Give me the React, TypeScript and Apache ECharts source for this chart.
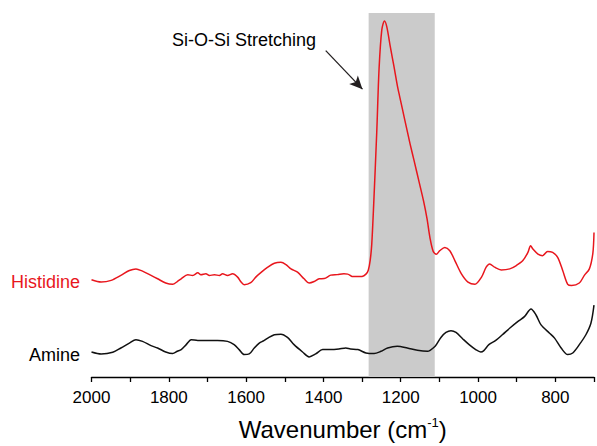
import React, { useEffect, useRef } from "react";
import * as echarts from "echarts";

// Wavenumber axis (cm^-1), drawn reversed
const X_MIN = 700;
const X_MAX = 2000;
const X_TICK_LABELS = [2000, 1800, 1600, 1400, 1200, 1000, 800];
const BAND = [1283, 1112];

// Histidine (red) spectrum, arbitrary absorbance units
const histWn = [
  2000, 1975, 1949, 1924, 1902, 1885, 1868, 1846, 1829, 1808, 1790, 1778, 1768,
  1751, 1738, 1725, 1717, 1704, 1695, 1682, 1669, 1661, 1648, 1635, 1622, 1613,
  1605, 1588, 1575, 1562, 1544, 1527, 1510, 1497, 1484, 1467, 1450, 1437, 1424,
  1411, 1398, 1381, 1364, 1347, 1337, 1326, 1315, 1300, 1290, 1284, 1279, 1275,
  1270, 1262, 1256, 1249, 1242, 1236, 1227, 1218, 1208, 1203, 1189, 1176, 1165,
  1153, 1141, 1132, 1124, 1116, 1108, 1099, 1086, 1073, 1060, 1043, 1026, 1008,
  991, 979, 970, 957, 940, 918, 901, 884, 871, 864, 858, 845, 833, 820, 807, 794,
  781, 768, 758, 738, 725, 712, 703, 700,
];
const histAbs = [
  98.3, 96, 97.7, 102.7, 107.7, 109.3, 107, 102.7, 99.3, 95, 93.7, 96.5, 99.3,
  103.3, 102.7, 105.3, 103.3, 104.3, 102.7, 103.3, 102.7, 104.3, 102.7, 104.3, 101, 96,
  93.3, 95.3, 101, 105.5, 111, 115, 116, 113.7, 109.3, 106, 99.3, 95, 96.5,
  99.3, 99.5, 103, 103.5, 104.3, 104, 101.7, 101.5, 101.7, 104, 108, 118, 134,
  174, 248, 312, 351, 360, 354, 334, 315, 293, 284, 259, 236, 218,
  198, 178, 160, 140, 127, 124, 127.7, 131, 127.7, 117.7, 104.3, 96, 93.7,
  101, 111, 114.3, 111, 108.3, 109.3, 112.7, 117.7, 126, 132.7, 129.3, 124.3, 122.7, 127, 126, 121,
  107.7, 93.7, 92.5, 95, 102.7, 109.3, 125, 146,
];

// Amine (black) spectrum, arbitrary absorbance units
const amineWn = [
  2000, 1975, 1945, 1924, 1902, 1885, 1868, 1846, 1829, 1808, 1790, 1778, 1768,
  1755, 1742, 1725, 1700, 1674, 1648, 1631, 1618, 1605, 1592, 1579, 1566, 1554,
  1544, 1527, 1510, 1493, 1476, 1454, 1437, 1420, 1402, 1381, 1360, 1342, 1330,
  1311, 1290, 1269, 1251, 1234, 1209, 1183, 1157, 1131, 1124, 1111, 1096, 1083,
  1070, 1057, 1040, 1023, 1006, 993, 985, 972, 955, 937, 916, 895, 880, 863, 850,
  837, 815, 802, 785, 768, 755, 738, 721, 708, 700,
];
const amineAbs = [
  25.3, 23.3, 25, 29.3, 34.3, 37.7, 36, 31.7, 29.3, 25.3, 23.7, 26, 27.7,
  32.7, 37.7, 37, 37, 37, 36, 32.7, 27.7, 22.7, 23.3, 29.3, 34.3, 36.7,
  39.3, 42.7, 43.3, 40, 32.7, 25.3, 20.3, 23.3, 27.7, 27.7, 28.3, 29.3, 28.3,
  27.7, 24.3, 23.7, 26, 29.3, 31, 29.3, 27, 26, 27, 31, 40, 45,
  46.7, 45, 38.7, 32.7, 27.7, 25.3, 26.7, 32.7, 36.7, 42.7, 50, 56.7, 61, 68.7, 62.7,
  52.7, 44.3, 39.3, 29.3, 22.7, 24.3, 32.7, 42.7, 54.3, 72.7,
];

// Arrow annotation endpoints [wavenumber, absorbance]
const ARROW_FROM = [1394, 330];
const ARROW_TO = [1299, 291];

const FONT = "'Liberation Sans', Arial, Helvetica, sans-serif";
const RED = "#e8161d";
const BLACK = "#111111";

export default function App() {
  const ref = useRef<HTMLDivElement>(null);

  useEffect(() => {
    if (!ref.current) return;
    const chart = echarts.init(ref.current, null, { renderer: "svg" });
    const hist = histWn.map((w, i) => [w, histAbs[i]]);
    const amine = amineWn.map((w, i) => [w, amineAbs[i]]);

    chart.setOption({
      animation: false,
      backgroundColor: "#ffffff",
      grid: { left: 91.5, right: 0.5, top: 13, bottom: 65 },
      xAxis: {
        type: "value",
        inverse: true,
        min: X_MIN,
        max: X_MAX,
        interval: 100,
        splitLine: { show: false },
        axisLine: { show: true, onZero: false, lineStyle: { color: "#000", width: 1.3 } },
        axisTick: { show: true, length: 5, inside: false, lineStyle: { color: "#000", width: 1.3 } },
        axisLabel: {
          color: "#000",
          fontSize: 17,
          fontFamily: FONT,
          margin: 12,
          showMinLabel: true,
          showMaxLabel: true,
          formatter: (v: number) => (X_TICK_LABELS.includes(v) ? String(v) : ""),
        },
        name: "{a|Wavenumber (cm}{s|-1}{a|)}",
        nameLocation: "middle",
        nameGap: 39,
        nameTextStyle: {
          rich: {
            a: { fontSize: 24, fontFamily: FONT, color: "#000", lineHeight: 26 },
            s: { fontSize: 13, fontFamily: FONT, color: "#000", verticalAlign: "top", lineHeight: 26 },
          },
        },
      },
      yAxis: {
        type: "value",
        min: 0,
        max: 368,
        show: false,
        splitLine: { show: false },
      },
      series: [
        {
          name: "Amine",
          type: "line",
          data: amine,
          showSymbol: false,
          smooth: 0.3,
          z: 3,
          lineStyle: { color: BLACK, width: 1.5 },
          markArea: {
            silent: true,
            itemStyle: { color: "#cbcbcb" },
            data: [[{ xAxis: BAND[0] }, { xAxis: BAND[1] }]],
          },
        },
        {
          name: "Histidine",
          type: "line",
          data: hist,
          showSymbol: false,
          smooth: 0.3,
          z: 4,
          lineStyle: { color: RED, width: 1.5 },
          markLine: {
            silent: true,
            symbol: ["none", "arrow"],
            symbolSize: [9, 13],
            label: { show: false },
            lineStyle: { color: "#231f20", width: 1.3, type: "solid" },
            data: [[{ coord: ARROW_FROM }, { coord: ARROW_TO }]],
          },
        },
      ],
      graphic: [
        {
          type: "text",
          x: 80,
          y: 282,
          style: {
            text: "Histidine",
            fill: RED,
            font: `18px ${FONT}`,
            align: "right",
            verticalAlign: "middle",
          },
        },
        {
          type: "text",
          x: 80,
          y: 355,
          style: {
            text: "Amine",
            fill: "#000",
            font: `18px ${FONT}`,
            align: "right",
            verticalAlign: "middle",
          },
        },
        {
          type: "text",
          x: 172,
          y: 40,
          style: {
            text: "Si-O-Si Stretching",
            fill: "#000",
            font: `18px ${FONT}`,
            align: "left",
            verticalAlign: "middle",
          },
        },
      ],
    });

    return () => chart.dispose();
  }, []);

  return (
    <div
      ref={ref}
      style={{ position: "fixed", left: 0, top: 0, width: 597, height: 446, background: "#fff" }}
    />
  );
}
